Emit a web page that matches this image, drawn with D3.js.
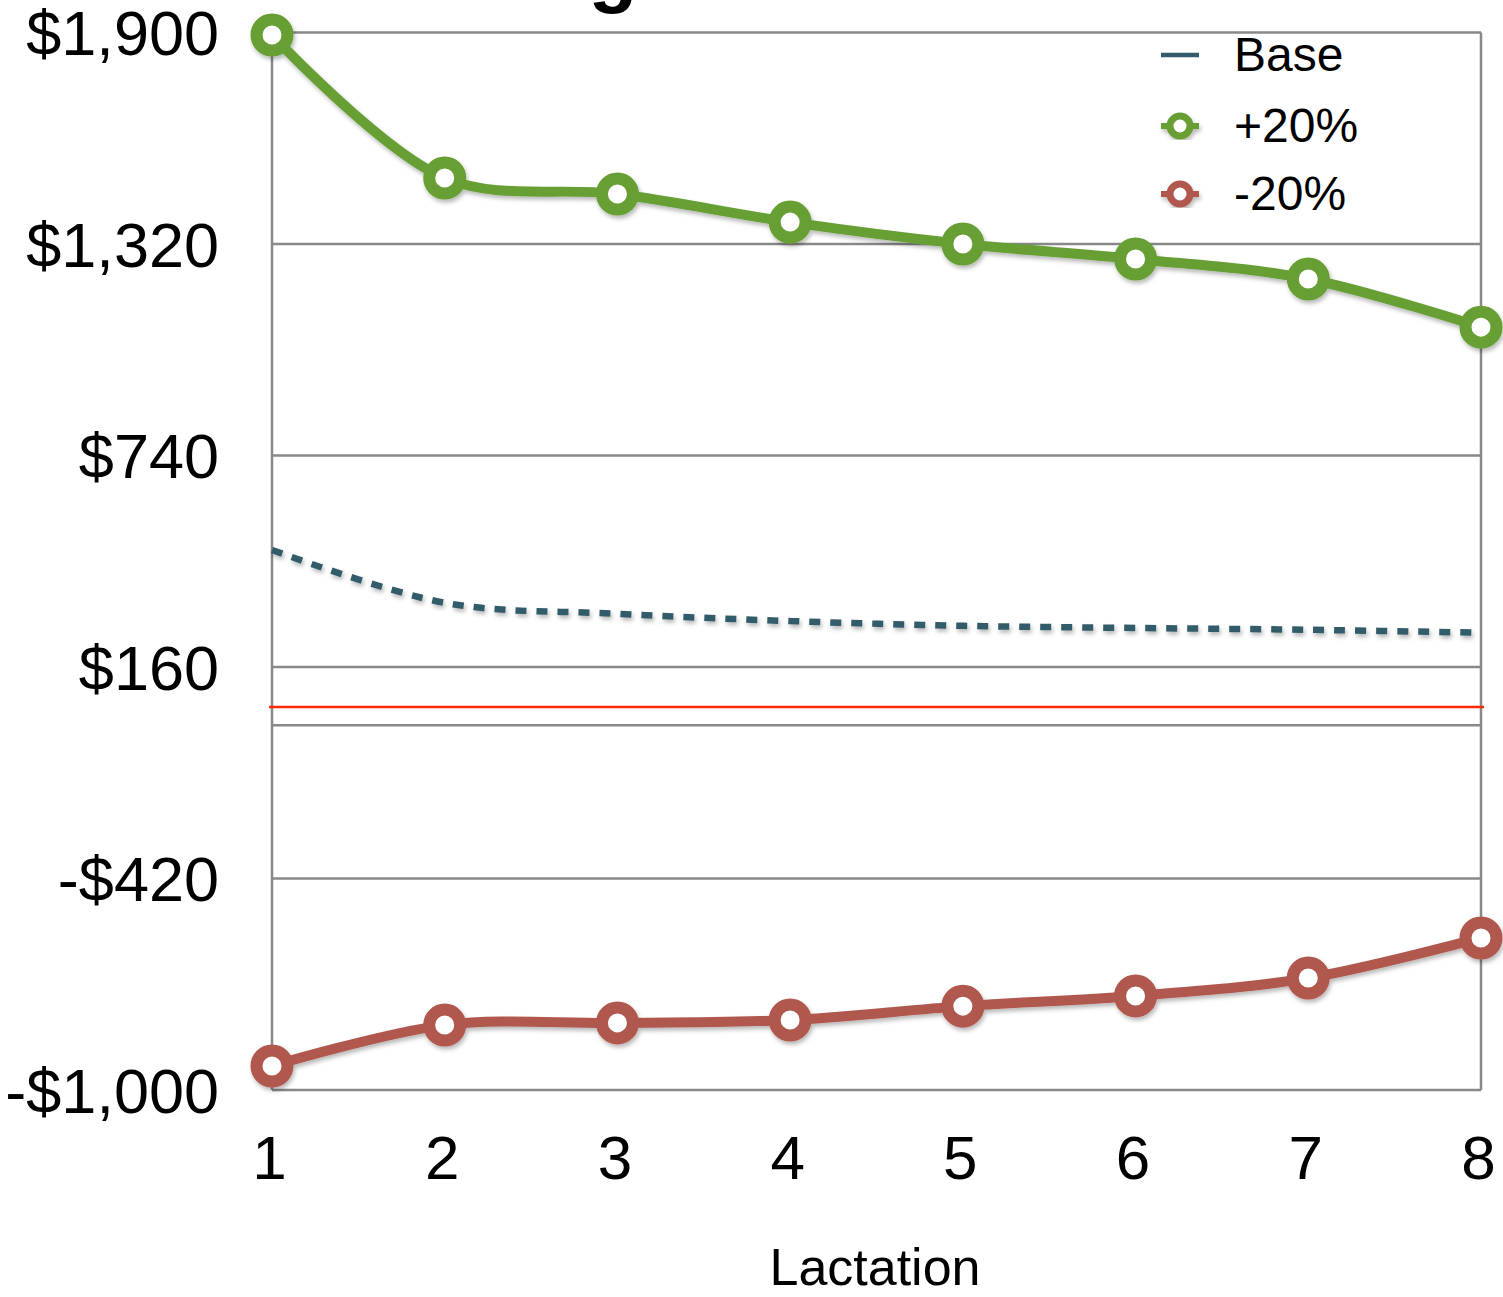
<!DOCTYPE html>
<html>
<head>
<meta charset="utf-8">
<script src="https://cdn.jsdelivr.net/npm/d3@7"></script>
<style>
body { margin: 0; background: #fff; }
text { font-family: "Liberation Sans", Arial, Helvetica, sans-serif; fill: #000; }
</style>
</head>
<body>
<div id="chart"></div>
<script>
// data
var lactations = [1, 2, 3, 4, 5, 6, 7, 8];
var basevalues = [481, 336, 306, 286, 273, 267, 262, 254];
var plus20 = [1893, 1501, 1457, 1380, 1320, 1279, 1224, 1092];
var minus20 = [-934, -822, -816, -808, -770, -742, -693, -583];
var yTicks = [-1000, -420, 160, 740, 1320, 1900];
var zeroLine = 0;
var refLine = 50;
var seriesNames = ["Base", "+20%", "-20%"];
var seriesColors = ["#325b6b", "#679f36", "#b0584e"];

var margin = {top: 32.5, bottom: 207, right: 22, left: 272},
    width = 1503 - margin.left - margin.right,
    height = 1297 - margin.top - margin.bottom;

var svg = d3.select("#chart")
.append("svg")
.attr("width", 1503)
.attr("height", 1297);

var defs = svg.append("defs");
var f = defs.append("filter")
.attr("id", "shadow")
.attr("x", "-20%").attr("y", "-20%")
.attr("width", "140%").attr("height", "140%");
f.append("feDropShadow")
.attr("dx", 1.5).attr("dy", 3)
.attr("stdDeviation", 2)
.attr("flood-color", "#000")
.attr("flood-opacity", 0.28);

// title, mostly above the picture
svg.append("text")
.text("Net Margin")
.attr("x", 295)
.attr("y", -3)
.style("font-size", "80px")
.style("font-weight", "bold");

var g = svg.append("g")
.attr("transform", "translate(" + margin.left + "," + margin.top + ")");

var x = d3.scaleLinear()
.domain([1, 8])
.range([0, width]);

var y = d3.scaleLinear()
.domain([-1000, 1900])
.range([height, 0]);

// gridlines
g.append("g")
.selectAll("line")
.data(yTicks.concat([zeroLine]))
.enter()
.append("line")
.attr("x1", 0)
.attr("x2", width)
.attr("y1", function(d){ return y(d); })
.attr("y2", function(d){ return y(d); })
.attr("stroke", "#898989")
.attr("stroke-width", 2.5);

// side borders
g.append("line")
.attr("x1", 0).attr("x2", 0)
.attr("y1", 0).attr("y2", height)
.attr("stroke", "#898989").attr("stroke-width", 2.5);
g.append("line")
.attr("x1", width).attr("x2", width)
.attr("y1", 0).attr("y2", height)
.attr("stroke", "#898989").attr("stroke-width", 2.5);

// y axis labels
var yAxis = g.append("g")
.call(d3.axisLeft(y).tickValues(yTicks).tickSize(0).tickPadding(53)
  .tickFormat(function(d){ return (d < 0 ? "-$" : "$") + d3.format(",")(Math.abs(d)); }));
yAxis.select(".domain").remove();
yAxis.selectAll("text")
.style("font-size", "63px")
.style("font-family", "Liberation Sans, Arial, sans-serif")
.attr("dy", "0.35em");

// x axis labels
var xAxis = g.append("g")
.attr("transform", "translate(0," + height + ")")
.call(d3.axisBottom(x).tickValues(lactations).tickSize(0).tickPadding(45)
  .tickFormat(d3.format("d")));
xAxis.select(".domain").remove();
xAxis.selectAll("text")
.style("font-size", "62px")
.style("font-family", "Liberation Sans, Arial, sans-serif")
.attr("dy", "0.71em")
.attr("x", -3);

svg.append("text")
.text("Lactation")
.attr("text-anchor", "middle")
.attr("x", 875)
.attr("y", 1285)
.style("font-size", "52px");

// red reference line
g.append("line")
.attr("x1", -3)
.attr("x2", width + 3)
.attr("y1", y(refLine))
.attr("y2", y(refLine))
.attr("stroke", "#ff2a0a")
.attr("stroke-width", 2.5);

var line = d3.line()
.x(function(d, i){ return x(lactations[i]); })
.y(function(d){ return y(d); })
.curve(d3.curveCatmullRom.alpha(0.5));

// base (dashed)
g.append("path")
.datum(basevalues)
.attr("d", line)
.attr("fill", "none")
.attr("stroke", seriesColors[0])
.attr("stroke-width", 6.5)
.attr("stroke-dasharray", "11,10")
.attr("filter", "url(#shadow)");

var drawSeries = function(vals, color){
  var s = g.append("g").attr("filter", "url(#shadow)");
  s.append("path")
  .datum(vals)
  .attr("d", line)
  .attr("fill", "none")
  .attr("stroke", color)
  .attr("stroke-width", 10);
  s.selectAll("circle")
  .data(vals)
  .enter()
  .append("circle")
  .attr("cx", function(d, i){ return x(lactations[i]); })
  .attr("cy", function(d){ return y(d); })
  .attr("r", 15.5)
  .attr("fill", "#fff")
  .attr("stroke", color)
  .attr("stroke-width", 12);
};

drawSeries(plus20, seriesColors[1]);
drawSeries(minus20, seriesColors[2]);

// legend
var legend = svg.append("g")
.attr("transform", "translate(1180,0)");
var rowY = [55, 126, 194];

legend.selectAll("text")
.data(seriesNames)
.enter()
.append("text")
.text(function(d){ return d; })
.attr("x", 54)
.attr("y", function(d, i){ return rowY[i] + 16; })
.style("font-size", "48px");

legend.append("line")
.attr("x1", -19).attr("x2", 19)
.attr("y1", rowY[0]).attr("y2", rowY[0])
.attr("stroke", seriesColors[0])
.attr("stroke-width", 4.5);

[1, 2].forEach(function(k){
  var lg = legend.append("g").attr("filter", "url(#shadow)");
  lg.append("line")
  .attr("x1", -19).attr("x2", 19)
  .attr("y1", rowY[k]).attr("y2", rowY[k])
  .attr("stroke", seriesColors[k])
  .attr("stroke-width", 6);
  lg.append("circle")
  .attr("cx", 0).attr("cy", rowY[k])
  .attr("r", 10)
  .attr("fill", "#fff")
  .attr("stroke", seriesColors[k])
  .attr("stroke-width", 7);
});
</script>
</body>
</html>
